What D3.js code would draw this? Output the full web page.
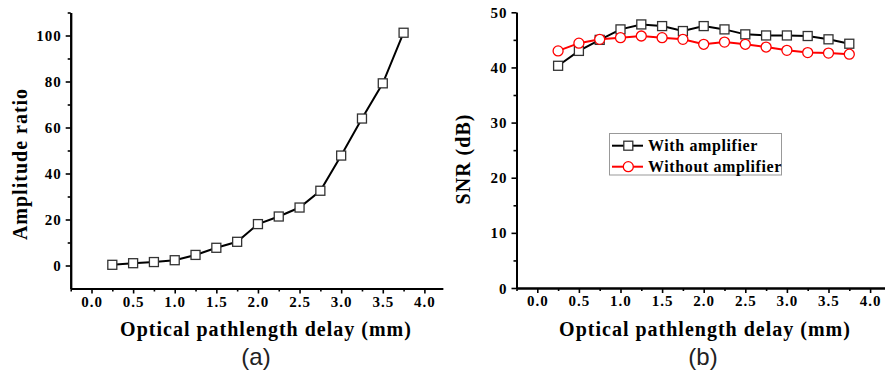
<!DOCTYPE html>
<html>
<head>
<meta charset="utf-8">
<script src="https://cdn.jsdelivr.net/npm/d3@7"></script>
<style>
	body { margin: 0; background: #fff; }
	svg { display: block; }
	.title { font-family: "Liberation Serif", "Times New Roman", serif; font-weight: bold; font-size: 20px; letter-spacing: 1px; fill: #000; }
	.panel { font-family: "Liberation Sans", Arial, sans-serif; font-size: 24px; fill: #222; }
	.legend text { font-family: "Liberation Serif", "Times New Roman", serif; font-weight: bold; font-size: 16px; letter-spacing: 0.6px; fill: #000; }
</style>
</head>
<body>
<svg id="chart" width="885" height="383"></svg>
<script>
// optical pathlength delay (mm)
const delay = [0.25, 0.5, 0.75, 1.0, 1.25, 1.5, 1.75, 2.0, 2.25, 2.5, 2.75, 3.0, 3.25, 3.5, 3.75];
// (a) amplitude ratio
const amplitudeRatio = [0.3, 1.0, 1.5, 2.3, 4.6, 7.7, 10.3, 18.0, 21.3, 25.2, 32.5, 47.8, 63.9, 79.2, 101.2];
// (b) SNR in dB
const snrWithAmp = [40.3, 43.0, 45.0, 46.9, 47.8, 47.5, 46.6, 47.5, 46.9, 46.0, 45.8, 45.8, 45.7, 45.1, 44.3];
const snrWithoutAmp = [43.0, 44.4, 45.1, 45.4, 45.7, 45.4, 45.1, 44.2, 44.6, 44.2, 43.7, 43.1, 42.7, 42.6, 42.4];

const xMajor = [0, 0.5, 1.0, 1.5, 2.0, 2.5, 3.0, 3.5, 4.0];
const xMinor = [-0.25, 0.25, 0.75, 1.25, 1.75, 2.25, 2.75, 3.25, 3.75];
const ampMajor = [0, 20, 40, 60, 80, 100];
const ampMinor = [10, 30, 50, 70, 90, 110];
const snrMajor = [0, 10, 20, 30, 40, 50];
const snrMinor = [5, 15, 25, 35, 45];

const svg = d3.select("#chart");

/** draw axes with major + minor ticks */
function drawAxes(g, x, y, yMajor, yMinor) {
	const x0 = y.range()[0];
	const y0 = x.range()[0];

	const xa = g.append("g").attr("transform", `translate(0,${x0})`);
	xa.append("g").call(d3.axisBottom(x).tickValues(xMinor).tickSize(3).tickSizeOuter(0).tickFormat(""));
	xa.append("g").call(d3.axisBottom(x).tickValues(xMajor).tickSize(5).tickSizeOuter(0).tickFormat(d3.format(".1f")));

	const ya = g.append("g").attr("transform", `translate(${y0},0)`);
	ya.append("g").call(d3.axisLeft(y).tickValues(yMinor).tickSize(3).tickSizeOuter(0).tickFormat(""));
	ya.append("g").call(d3.axisLeft(y).tickValues(yMajor).tickSize(5).tickSizeOuter(0).tickPadding(4));

	g.selectAll(".domain").attr("stroke", "#000").attr("stroke-width", 2);
	g.selectAll(".tick line").attr("stroke", "#000").attr("stroke-width", 1.6);
	g.selectAll(".tick text")
		.style("font-family", '"Liberation Serif", "Times New Roman", serif')
		.style("font-weight", "bold")
		.style("font-size", "15px")
		.style("letter-spacing", "1px")
		.attr("fill", "#000");
	xa.selectAll(".tick text").attr("dy", null).attr("y", 18);
	ya.selectAll(".tick text").attr("dy", "0.34em");
}

function squares(g, x, y, vals) {
	g.append("g").selectAll("rect")
		.data(vals)
		.enter().append("rect")
		.attr("x", (d, i) => x(delay[i]) - 4.5)
		.attr("y", d => y(d) - 4.5)
		.attr("width", 9)
		.attr("height", 9)
		.attr("fill", "#fff")
		.attr("stroke", "#333")
		.attr("stroke-width", 1.3);
}

function circles(g, x, y, vals) {
	g.append("g").selectAll("circle")
		.data(vals)
		.enter().append("circle")
		.attr("cx", (d, i) => x(delay[i]))
		.attr("cy", d => y(d))
		.attr("r", 5)
		.attr("fill", "#fff")
		.attr("stroke", "#f00")
		.attr("stroke-width", 1.3);
}

function path(g, x, y, vals, color) {
	const line = d3.line().x((d, i) => x(delay[i])).y(d => y(d));
	g.append("path")
		.datum(vals)
		.attr("d", line)
		.attr("fill", "none")
		.attr("stroke", color)
		.attr("stroke-width", 2);
}

// ---- panel (a)
const xa = d3.scaleLinear().domain([-0.25, 4.22]).range([70.7, 442.7]);
const ya = d3.scaleLinear().domain([-10, 110]).range([288.5, 12.5]);
const ga = svg.append("g");
drawAxes(ga, xa, ya, ampMajor, ampMinor);
path(ga, xa, ya, amplitudeRatio, "#000");
squares(ga, xa, ya, amplitudeRatio);

ga.append("text").attr("class", "title")
	.attr("x", 266).attr("y", 336).attr("text-anchor", "middle")
	.text("Optical pathlength delay (mm)");
ga.append("text").attr("class", "title")
	.attr("transform", "translate(27,164) rotate(-90)").attr("text-anchor", "middle")
	.text("Amplitude ratio");
ga.append("text").attr("class", "panel")
	.attr("x", 256).attr("y", 365).attr("text-anchor", "middle").text("(a)");

// ---- panel (b)
const xb = d3.scaleLinear().domain([-0.25, 4.22]).range([516.5, 888.4]);
const yb = d3.scaleLinear().domain([0, 50]).range([288, 12.3]);
const gb = svg.append("g");
drawAxes(gb, xb, yb, snrMajor, snrMinor);
path(gb, xb, yb, snrWithAmp, "#000");
path(gb, xb, yb, snrWithoutAmp, "#f00");
squares(gb, xb, yb, snrWithAmp);
circles(gb, xb, yb, snrWithoutAmp);

gb.append("text").attr("class", "title")
	.attr("x", 705).attr("y", 336).attr("text-anchor", "middle")
	.text("Optical pathlength delay (mm)");
gb.append("text").attr("class", "title")
	.attr("transform", "translate(470,159) rotate(-90)").attr("text-anchor", "middle")
	.text("SNR (dB)");
gb.append("text").attr("class", "panel")
	.attr("x", 703).attr("y", 365).attr("text-anchor", "middle").text("(b)");

// legend
const legend = gb.append("g").attr("class", "legend");
legend.append("rect")
	.attr("x", 609.5).attr("y", 133.5).attr("width", 172).attr("height", 41.5)
	.attr("fill", "#fff").attr("stroke", "#999").attr("stroke-width", 1);
const items = [
	{ name: "With amplifier", color: "#000", shape: "square" },
	{ name: "Without amplifier", color: "#f00", shape: "circle" }
];
items.forEach((it, i) => {
	const cy = 145.7 + i * 21;
	legend.append("line")
		.attr("x1", 612).attr("x2", 643).attr("y1", cy).attr("y2", cy)
		.attr("stroke", it.color).attr("stroke-width", 2);
	if (it.shape === "square") {
		legend.append("rect").attr("x", 628.3 - 4.5).attr("y", cy - 4.5)
			.attr("width", 9).attr("height", 9)
			.attr("fill", "#fff").attr("stroke", "#333").attr("stroke-width", 1.3);
	} else {
		legend.append("circle").attr("cx", 628.3).attr("cy", cy).attr("r", 5)
			.attr("fill", "#fff").attr("stroke", "#f00").attr("stroke-width", 1.3);
	}
	legend.append("text").attr("x", 648).attr("y", cy + 5.5).text(it.name);
});
</script>
</body>
</html>
